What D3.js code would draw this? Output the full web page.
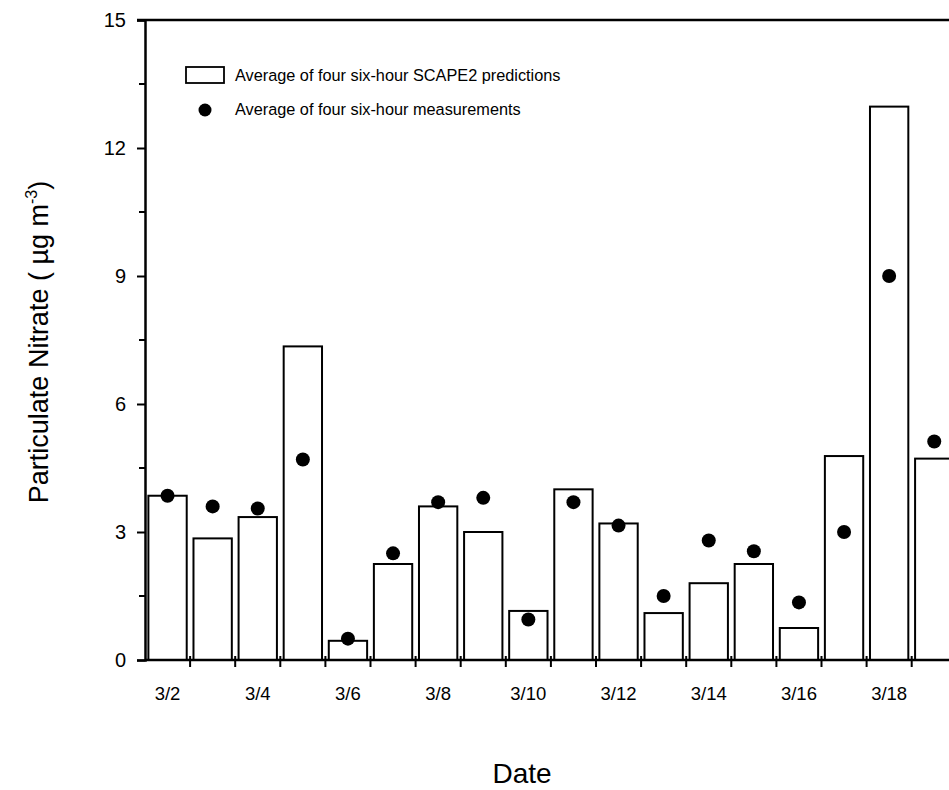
<!DOCTYPE html>
<html>
<head>
<meta charset="utf-8">
<script src="https://cdn.jsdelivr.net/npm/d3@7"></script>
<style>
  html, body { margin: 0; padding: 0; background: #fff; }
  svg { display: block; font-family: "Liberation Sans", Arial, sans-serif; }
</style>
</head>
<body>
<svg id="chart" width="949" height="790"></svg>
<script>
// Daily particulate nitrate, March
const dates = ["3/2","3/3","3/4","3/5","3/6","3/7","3/8","3/9","3/10",
               "3/11","3/12","3/13","3/14","3/15","3/16","3/17","3/18","3/19"];
const predicted = [3.85, 2.85, 3.35, 7.35, 0.45, 2.25, 3.6, 3.0, 1.15,
                   4.0, 3.2, 1.1, 1.8, 2.25, 0.75, 4.78, 12.97, 4.72];
const measured  = [3.85, 3.6, 3.55, 4.7, 0.5, 2.5, 3.7, 3.8, 0.95,
                   3.7, 3.15, 1.5, 2.8, 2.55, 1.35, 3.0, 9.0, 5.12];
const xTickLabels = ["3/2","3/4","3/6","3/8","3/10","3/12","3/14","3/16","3/18"];
const yTicks = [0, 3, 6, 9, 12, 15];
const yMinorTicks = [1.5, 4.5, 7.5, 10.5, 13.5];
const legendLabels = ["Average of four six-hour SCAPE2 predictions",
                      "Average of four six-hour measurements"];

const svg = d3.select("#chart");
const plotLeft = 145, plotTop = 20, plotBottom = 660;
const step = 45.1;

const x = d3.scaleBand()
  .domain(dates)
  .range([plotLeft, plotLeft + dates.length * step])
  .paddingInner(0.15)
  .paddingOuter(0.075);

const y = d3.scaleLinear().domain([0, 15]).range([plotBottom, plotTop]);

// bars
svg.append("g").selectAll("rect")
  .data(dates)
  .join("rect")
  .attr("x", d => x(d))
  .attr("width", x.bandwidth())
  .attr("y", (d, i) => y(predicted[i]))
  .attr("height", (d, i) => y(0) - y(predicted[i]))
  .attr("fill", "#fff")
  .attr("stroke", "#000")
  .attr("stroke-width", 2);

// measured points
svg.append("g").selectAll("circle")
  .data(dates)
  .join("circle")
  .attr("cx", d => x(d) + x.bandwidth() / 2)
  .attr("cy", (d, i) => y(measured[i]))
  .attr("r", 7)
  .attr("fill", "#000");

// top frame line
svg.append("line")
  .attr("x1", plotLeft - 8).attr("x2", 949)
  .attr("y1", y(15)).attr("y2", y(15))
  .attr("stroke", "#000").attr("stroke-width", 2.5);

// y axis
const yAxis = svg.append("g")
  .attr("transform", `translate(${plotLeft},0)`)
  .call(d3.axisLeft(y).tickValues(yTicks).tickSize(8).tickPadding(11).tickFormat(d3.format("d")));
yAxis.select(".domain").attr("stroke-width", 2.5);
yAxis.selectAll(".tick line").attr("stroke-width", 2);
yAxis.selectAll(".tick text")
  .attr("font-size", 20)
  .attr("font-family", "Liberation Sans, Arial, sans-serif")
  .attr("fill", "#000");
yAxis.append("g").selectAll("line")
  .data(yMinorTicks)
  .join("line")
  .attr("x1", -6).attr("x2", 0)
  .attr("y1", d => y(d)).attr("y2", d => y(d))
  .attr("stroke", "#000").attr("stroke-width", 2);

// x axis: line, boundary ticks and every-other-day labels
svg.append("line")
  .attr("x1", plotLeft).attr("x2", 949)
  .attr("y1", plotBottom).attr("y2", plotBottom)
  .attr("stroke", "#000").attr("stroke-width", 2.5);

const boundaries = d3.range(1, dates.length + 1).map(i => plotLeft + i * step);
svg.append("g").selectAll("line")
  .data(boundaries)
  .join("line")
  .attr("x1", d => d).attr("x2", d => d)
  .attr("y1", plotBottom - 4).attr("y2", plotBottom + 7)
  .attr("stroke", "#000").attr("stroke-width", 2);

svg.append("g").selectAll("text")
  .data(xTickLabels)
  .join("text")
  .attr("x", d => x(d) + x.bandwidth() / 2)
  .attr("y", 700)
  .attr("text-anchor", "middle")
  .attr("font-size", 18.5)
  .text(d => d);

// axis titles
svg.append("text")
  .attr("x", 522).attr("y", 783)
  .attr("text-anchor", "middle")
  .attr("font-size", 28)
  .text("Date");

const yTitle = svg.append("text")
  .attr("transform", "translate(48,342) rotate(-90)")
  .attr("text-anchor", "middle")
  .attr("font-size", 27);
yTitle.append("tspan").text("Particulate Nitrate ( µg m");
yTitle.append("tspan").attr("dy", -11).attr("font-size", 16).text("-3");
yTitle.append("tspan").attr("dy", 11).text(")");

// legend
const legend = svg.append("g");
legend.append("rect")
  .attr("x", 186).attr("y", 67)
  .attr("width", 38).attr("height", 16)
  .attr("fill", "#fff").attr("stroke", "#000").attr("stroke-width", 1.8);
legend.append("circle")
  .attr("cx", 205).attr("cy", 110).attr("r", 6.5).attr("fill", "#000");
legend.selectAll("text")
  .data(legendLabels)
  .join("text")
  .attr("x", 235)
  .attr("y", (d, i) => 81 + i * 34)
  .attr("font-size", 16.3)
  .text(d => d);
</script>
</body>
</html>
